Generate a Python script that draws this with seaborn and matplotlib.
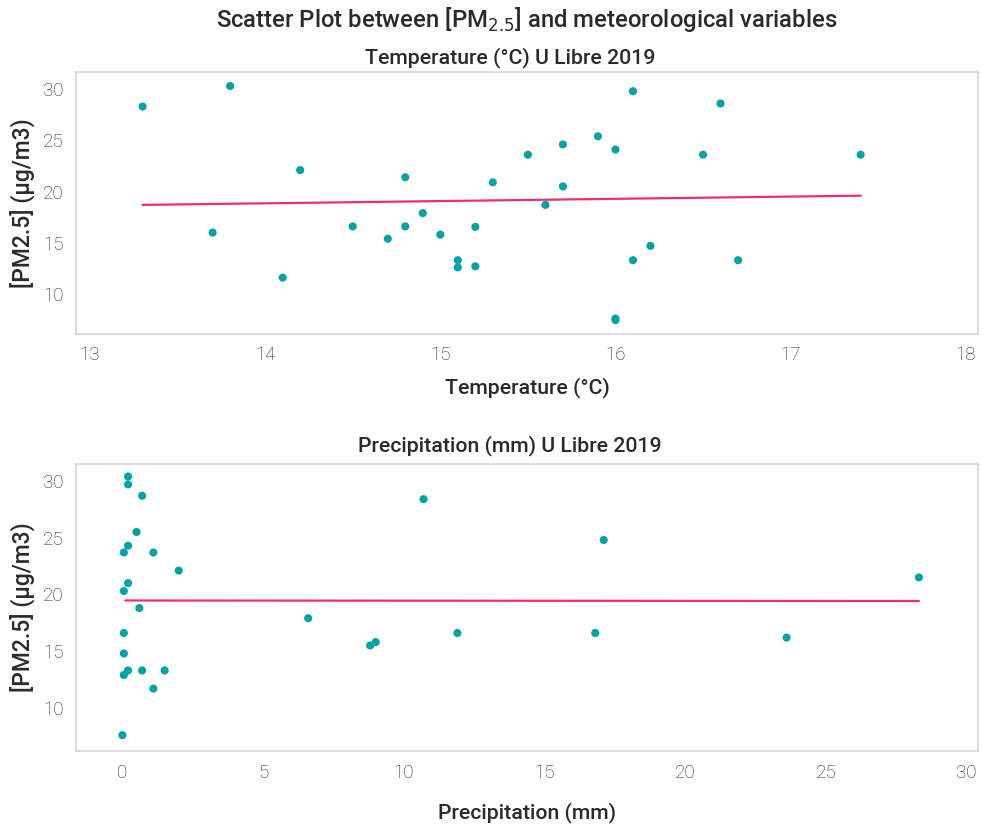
import matplotlib
matplotlib.use("Agg")
import matplotlib.pyplot as plt
import seaborn as sns
import numpy as np
import pandas as pd

# Top panel: temperature vs PM2.5
temp_c = [13.3, 13.8, 14.2, 13.7, 14.1, 14.5, 14.7, 14.8, 14.8, 14.9, 15.0,
          15.1, 15.1, 15.2, 15.2, 15.3, 15.5, 15.7, 15.7, 15.6, 15.9, 16.0,
          16.1, 16.1, 16.2, 16.5, 16.6, 16.7, 17.4, 16.0, 16.0]
pm_temp = [28.3, 30.3, 22.1, 16.0, 11.6, 16.6, 15.4, 21.4, 16.6, 17.9, 15.8,
           13.3, 12.6, 12.7, 16.55, 20.9, 23.6, 24.6, 20.5, 18.7, 25.4, 24.1,
           29.8, 13.3, 14.7, 23.6, 28.6, 13.3, 23.6, 7.45, 7.6]
# Fitted trend line (end points)
trend_temp_x = [13.3, 17.4]
trend_temp_y = [18.7, 19.6]

# Bottom panel: precipitation vs PM2.5
precip_mm = [0.2, 0.2, 0.7, 0.5, 0.2, 0.05, 1.1, 2.0, 0.2, 0.05, 0.6, 6.6,
             8.8, 9.0, 0.05, 0.05, 0.2, 0.05, 0.7, 1.5, 1.1, 0.0, 10.7, 11.9,
             16.8, 17.1, 23.6, 28.3]
pm_precip = [30.4, 29.7, 28.7, 25.5, 24.3, 23.7, 23.7, 22.1, 21.0, 20.3, 18.8,
             17.9, 15.5, 15.8, 16.6, 14.8, 13.3, 12.9, 13.3, 13.3, 11.7, 7.6,
             28.4, 16.6, 16.6, 24.8, 16.2, 21.5]
trend_precip_x = [0.1, 28.3]
trend_precip_y = [19.47, 19.42]

temp_ticks = [13, 14, 15, 16, 17, 18]
precip_ticks = [0, 5, 10, 15, 20, 25, 30]
pm_ticks = [10, 15, 20, 25, 30]

sns.set_theme(style="white")
plt.rcParams['font.family'] = ['Roboto', 'DejaVu Sans']

POINT = "#00A3A6"
LINE = "#EE2F6C"
SPINE = "#D6D6D6"
TXT = "#2A2A2A"
TICK = "#262626"

fig = plt.figure(figsize=(9.83, 8.25), dpi=100)
ax1 = fig.add_axes([76/983, 1-334/825, (978-76)/983, (334-71.7)/825])
ax2 = fig.add_axes([76/983, 1-751/825, (978-76)/983, (751-464)/825])

panels = [
    (ax1, temp_c, pm_temp, trend_temp_x, trend_temp_y),
    (ax2, precip_mm, pm_precip, trend_precip_x, trend_precip_y),
]
for ax, xs, ys, tx, ty in panels:
    df = pd.DataFrame({"x": xs, "y": ys})
    tr = pd.DataFrame({"x": tx, "y": ty})
    sns.scatterplot(data=df, x="x", y="y", ax=ax, s=34, color=POINT,
                    edgecolor="none", zorder=3)
    sns.lineplot(data=tr, x="x", y="y", ax=ax, color=LINE, lw=1.6, zorder=2)

ax1.set_xlim(12.92, 18.07)
ax1.set_ylim(6.1, 31.7)
ax1.set_xticks(temp_ticks)
ax1.set_yticks(pm_ticks)

ax2.set_xlim(-1.65, 30.4)
ax2.set_ylim(6.2, 31.5)
ax2.set_xticks(precip_ticks)
ax2.set_yticks(pm_ticks)

for ax in (ax1, ax2):
    for sp in ax.spines.values():
        sp.set_visible(True)
        sp.set_color(SPINE)
        sp.set_linewidth(1.2)
    ax.tick_params(axis="both", which="both", direction="out", length=5,
                   width=1, color=SPINE, labelsize=13.5, labelcolor=TICK, pad=4)
    for lab in ax.get_xticklabels() + ax.get_yticklabels():
        lab.set_fontweight("light")
    ax.grid(False)
    ax.set_ylabel("[PM2.5] (μg/m3)", fontsize=16.5, fontweight="medium",
                  color=TXT, labelpad=6)

ax1.set_xlabel("Temperature (°C)", fontsize=15.3, fontweight="medium",
               color=TXT, labelpad=9)
ax2.set_xlabel("Precipitation (mm)", fontsize=15.3, fontweight="medium",
               color=TXT, labelpad=15)

sub_x = (510 - 76) / (978 - 76)
ax1.set_title("Temperature (°C) U Libre 2019", fontsize=15.3,
              fontweight="medium", color=TXT, pad=6, x=sub_x)
ax2.set_title("Precipitation (mm) U Libre 2019", fontsize=15.3,
              fontweight="medium", color=TXT, pad=9, x=sub_x)

fig.text(527/983, 1-20/825, "Scatter Plot between [PM$_{2.5}$] and meteorological variables",
         ha="center", va="center", fontsize=17.2, fontweight="medium", color=TXT)

fig.savefig("out.png", dpi=100)
